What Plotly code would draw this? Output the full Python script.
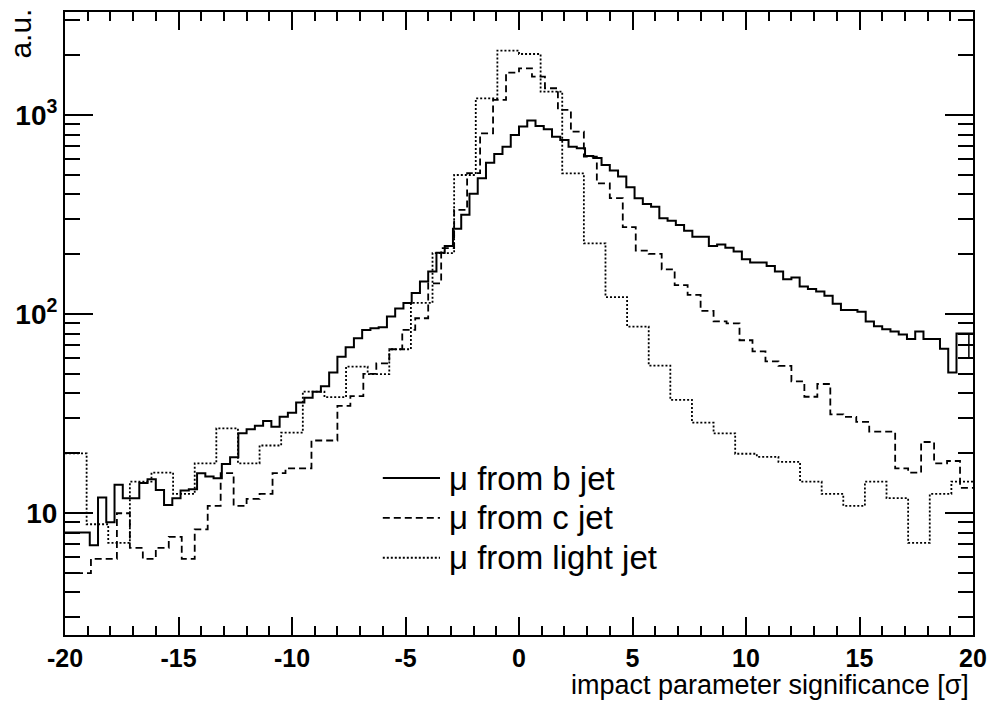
import numpy as np
import plotly.graph_objects as go

# ---------------- data ----------------
x_min, x_max = -20.0, 20.0

# mu from b jet: 110 bins
b_jet = [8.0, 8.0, 8.0, 6.9, 12.0, 9.0, 13.9, 11.9, 11.9, 14.2,
         14.8, 13.1, 11.0, 11.9, 13.0, 13.2, 15.9, 15.3, 15.0, 17.7,
         19.1, 25.2, 26.4, 27.5, 29.1, 27.2, 30.5, 32.0, 36.0, 38.1,
         40.8, 43.5, 50.9, 61.2, 68.2, 75.7, 83.4, 85.0, 86.0, 97.3,
         107, 114, 128, 146, 164, 204, 220, 269, 316, 403,
         482, 578, 639, 695, 796, 877, 940, 883, 851, 781,
         752, 695, 683, 625, 610, 563, 527, 492, 435, 383,
         358, 347, 304, 295, 281, 263, 245, 245, 220, 224,
         216, 207, 189, 182, 182, 175, 164, 150, 153, 138,
         134, 130, 124, 113, 105, 105, 103, 92, 87, 84,
         82, 79, 75, 82, 75, 75, 67, 51, 80, 80]

# last b-jet bin drawn with an error bar in the reference
b_last_point = 70
b_last_err_up = 10
b_last_err_down = 9

# mu from c jet: 70 bins
c_jet = [5.0, 5.0, 5.9, 5.9, 10.0, 6.7, 5.9, 6.7, 7.6, 5.9,
         8.3, 10.9, 15.9, 10.9, 11.8, 12.5, 15.9, 16.8, 16.8, 23.2,
         23.2, 34.6, 38.8, 50.1, 56.7, 66.7, 83.4, 95.5, 143, 215,
         335, 512, 811, 1194, 1638, 1722, 1563, 1367, 1064, 827,
         620, 455, 383, 274, 209, 201, 168, 140, 125, 104,
         92, 90, 74, 65, 58, 55, 46, 38.5, 44.6, 31.4,
         30.5, 28.8, 25.7, 25.7, 16.8, 16.0, 22.8, 17.8, 18.3, 13.4]

# mu from light jet: 42 bins
light_jet = [20.0, 8.8, 7.1, 14.4, 16.0, 12.5, 17.8, 26.7, 17.8, 21.9,
             25.4, 40.8, 38.3, 54.6, 50.0, 66.7, 114, 203, 501, 1216,
             2113, 2032, 1315, 511, 227, 122, 86.7, 55.2, 37.1, 28.5,
             25.2, 19.9, 19.2, 18.1, 14.4, 12.5, 10.9, 14.4, 11.9, 7.1,
             12.5, 14.4]

series_names = ["\u03bc from b jet", "\u03bc from c jet", "\u03bc from light jet"]
series_dash = ["solid", "7px,4px", "2px,2px"]

x_tick_vals = [-20, -15, -10, -5, 0, 5, 10, 15, 20]
x_tick_text = ["-20", "-15", "-10", "-5", "0", "5", "10", "15", "20"]
y_tick_vals = [10, 100, 1000]
y_tick_text = ["<b>10</b>", "<b>10<sup>2</sup></b>", "<b>10<sup>3</sup></b>"]
y_minor_vals = [3, 4, 5, 6, 7, 8, 9, 20, 30, 40, 50, 60, 70, 80, 90,
                200, 300, 400, 500, 600, 700, 800, 900, 2000, 3000]


def step_xy(vals):
    n = len(vals)
    edges = np.linspace(x_min, x_max, n + 1)
    return edges, list(vals) + [vals[-1]]


FONT = "Liberation Sans, Arial, Helvetica, sans-serif"

fig = go.Figure()
for vals, name, dash in zip([b_jet, c_jet, light_jet], series_names, series_dash):
    xs, ys = step_xy(vals)
    fig.add_trace(go.Scatter(
        x=xs, y=ys, mode="lines", name=name,
        line=dict(shape="hv", color="black", width=2 if dash == "solid" else 1.8, dash=dash),
        showlegend=False, hoverinfo="skip"))

# error-bar cross on the last b-jet bin
b_w = (x_max - x_min) / len(b_jet)
fig.add_trace(go.Scatter(
    x=[x_max - b_w / 2], y=[b_last_point], mode="markers",
    marker=dict(size=1, color="black"),
    error_y=dict(type="data", array=[b_last_err_up], arrayminus=[b_last_err_down],
                 width=0, thickness=1.5, color="black"),
    error_x=dict(type="constant", value=b_w / 2, width=0, thickness=1.5, color="black"),
    showlegend=False, hoverinfo="skip"))

axis_common = dict(showline=True, linecolor="black", linewidth=2, mirror="allticks",
                   ticks="inside", tickcolor="black", tickwidth=1.5,
                   showgrid=False, zeroline=False, automargin=False)

fig.update_layout(
    width=991, height=702,
    margin=dict(l=65, r=18, t=12, b=67),
    paper_bgcolor="white", plot_bgcolor="white",
    showlegend=False,
    xaxis=dict(range=[x_min, x_max], tickmode="array", tickvals=x_tick_vals, ticktext=x_tick_text,
               ticklen=18, ticklabelstandoff=0,
               tickfont=dict(family=FONT, size=25, color="black", weight="bold"),
               minor=dict(ticks="inside", ticklen=9, tickwidth=1.5, tickcolor="black",
                          dtick=1, tick0=0, showgrid=False),
               **axis_common),
    yaxis=dict(type="log", range=[0.388, 3.519], tickmode="array",
               tickvals=y_tick_vals, ticktext=y_tick_text, ticklen=28,
               tickfont=dict(family=FONT, size=28, color="black", weight="bold"),
               minor=dict(ticks="inside", ticklen=15, tickwidth=1.5, tickcolor="black",
                          tickmode="array", tickvals=y_minor_vals, showgrid=False),
               **axis_common),
)

# axis titles
fig.add_annotation(text="a.u.", xref="paper", yref="paper", x=-0.05, y=1.008,
                   xanchor="center", yanchor="top", textangle=-90, showarrow=False,
                   font=dict(family=FONT, size=30, color="black"))
fig.add_annotation(text="impact parameter significance [\u03c3]", xref="paper", yref="paper",
                   x=0.998, y=-0.1075, xanchor="right", yanchor="bottom", showarrow=False,
                   font=dict(family=FONT, size=27, color="black"))

# legend (drawn manually, ROOT TLegend style)
leg_rows_y = [0.252, 0.188, 0.124]
for name, dash, yy in zip(series_names, series_dash, leg_rows_y):
    fig.add_shape(type="line", xref="paper", yref="paper", x0=0.350, x1=0.413, y0=yy, y1=yy,
                  line=dict(color="black", width=2 if dash == "solid" else 1.8, dash=dash))
    fig.add_annotation(text=name, xref="paper", yref="paper", x=0.4207, y=yy,
                       xanchor="left", yanchor="middle", showarrow=False,
                       font=dict(family=FONT, size=33, color="black"))

fig.write_html("out.html")
